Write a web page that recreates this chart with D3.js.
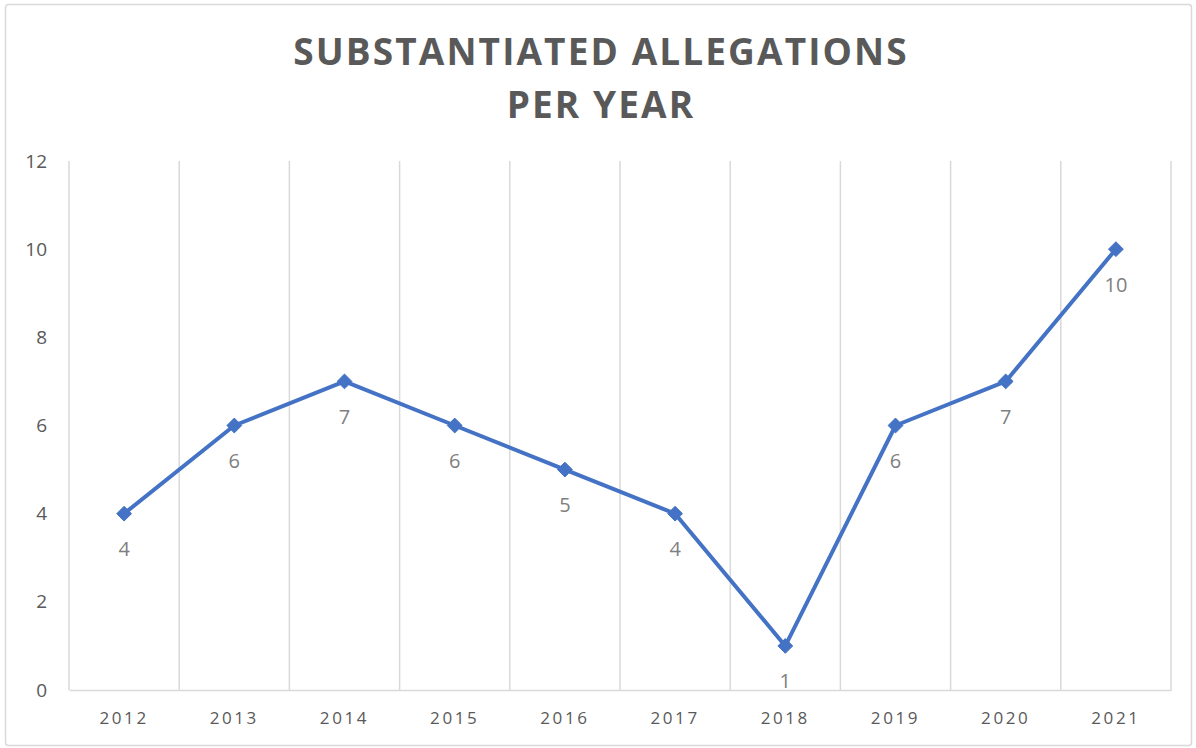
<!DOCTYPE html>
<html>
<head>
<meta charset="utf-8">
<script src="https://cdn.jsdelivr.net/npm/d3@7"></script>
<style>
  body { margin: 0; background: #fff; }
  text { font-family: "Open Sans", "Noto Sans", sans-serif; }
</style>
</head>
<body>
<script>
var years = ["2012", "2013", "2014", "2015", "2016", "2017", "2018", "2019", "2020", "2021"];
var allegations = [4, 6, 7, 6, 5, 4, 1, 6, 7, 10];
var yTicks = [0, 2, 4, 6, 8, 10, 12];
var titleLines = ["SUBSTANTIATED ALLEGATIONS", "PER YEAR"];

var width = 1196, height = 748;
var plotLeft = 69, plotRight = 1171, plotTop = 161, plotBottom = 690;

var svg = d3.select("body").append("svg")
    .attr("width", width)
    .attr("height", height);

// chart border
svg.append("rect")
  .attr("x", 5.5).attr("y", 4.5)
  .attr("width", 1186).attr("height", 741)
  .attr("rx", 3)
  .attr("fill", "#fff")
  .attr("stroke", "#d9d9d9")
  .attr("stroke-width", 1.5);

// title
svg.selectAll(".title")
  .data(titleLines)
  .enter()
  .append("text")
  .attr("class", "title")
  .attr("x", 601)
  .attr("y", function(d, i) { return 65 + i * 53; })
  .attr("text-anchor", "middle")
  .style("font-size", "37px")
  .style("font-weight", 700)
  .style("letter-spacing", "2.1px")
  .style("fill", "#595959")
  .text(function(d) { return d; });

var x = d3.scaleBand().domain(years).range([plotLeft, plotRight]);
var y = d3.scaleLinear().domain([0, 12]).range([plotBottom, plotTop]);

// vertical gridlines at category edges
var edges = years.map(function(d) { return x(d); }).concat([plotRight]);
svg.selectAll(".grid")
  .data(edges)
  .enter()
  .append("line")
  .attr("class", "grid")
  .attr("x1", function(d) { return d; })
  .attr("x2", function(d) { return d; })
  .attr("y1", plotTop)
  .attr("y2", plotBottom)
  .attr("stroke", "#d9d9d9")
  .attr("stroke-width", 1.5);

// x axis
var xAxis = svg.append("g")
  .attr("transform", "translate(0," + plotBottom + ")")
  .call(d3.axisBottom(x).tickSize(0).tickPadding(22));
xAxis.select(".domain").attr("stroke", "#d9d9d9").attr("stroke-width", 1.5);
xAxis.selectAll("text")
  .style("font-size", "17px")
  .style("letter-spacing", "2.6px")
  .style("fill", "#595959")
  .attr("dy", "0.71em");

// y axis labels
var yAxis = svg.append("g")
  .attr("transform", "translate(" + plotLeft + ",0)")
  .call(d3.axisLeft(y).tickValues(yTicks).tickSize(0).tickPadding(22));
yAxis.select(".domain").remove();
yAxis.selectAll("text")
  .style("font-size", "19px")
  .style("fill", "#595959");

var cx = function(d, i) { return x(years[i]) + x.bandwidth() / 2; };

// line
var line = d3.line()
  .x(function(d, i) { return cx(d, i); })
  .y(function(d) { return y(d); });

svg.append("path")
  .datum(allegations)
  .attr("d", line)
  .attr("fill", "none")
  .attr("stroke", "#4472c4")
  .attr("stroke-width", 4)
  .attr("stroke-linejoin", "round");

// diamond markers
svg.selectAll(".marker")
  .data(allegations)
  .enter()
  .append("path")
  .attr("class", "marker")
  .attr("d", d3.symbol().type(d3.symbolDiamond2).size(140))
  .attr("transform", function(d, i) { return "translate(" + cx(d, i) + "," + y(d) + ")"; })
  .attr("fill", "#4472c4")
  .attr("stroke", "#4472c4")
  .attr("stroke-width", 1);

// data labels
svg.selectAll(".label")
  .data(allegations)
  .enter()
  .append("text")
  .attr("class", "label")
  .attr("x", function(d, i) { return cx(d, i); })
  .attr("y", function(d) { return y(d) + 37; })
  .attr("text-anchor", "middle")
  .attr("dominant-baseline", "middle")
  .style("font-size", "20px")
  .style("fill", "#7f7f7f")
  .text(function(d) { return d; });
</script>
</body>
</html>
